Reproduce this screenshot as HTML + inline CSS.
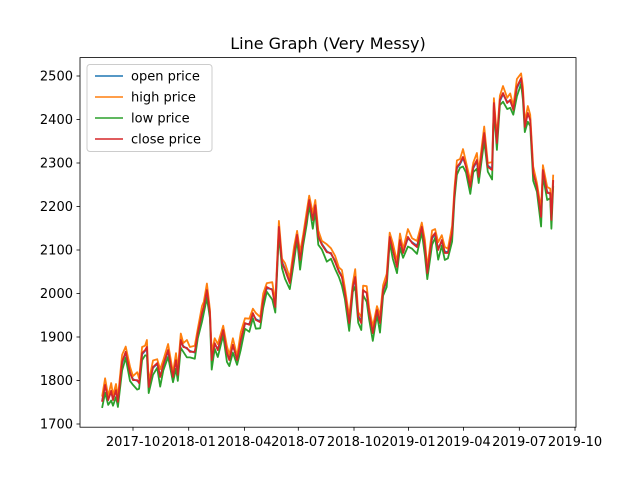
<!DOCTYPE html>
<html><head><meta charset="utf-8"><style>
body{margin:0;background:#fff}
svg{display:block;font-family:"DejaVu Sans","Liberation Sans",sans-serif}
</style></head><body>
<svg id="chart" width="640" height="480">
<rect width="640" height="480" fill="#fff"/>
<text x="328" y="49" text-anchor="middle" font-size="16">Line Graph (Very Messy)</text>
<g id="plot"></g>
</svg>
<script>
const days=[-51,-46,-41,-36,-33,-28,-25,-18,-12,-5,0,7,10,15,20,23,26,33,40,45,50,58,66,71,74,79,83,89,94,102,107,114,117,122,127,130,135,140,149,155,159,165,172,178,185,192,198,203,210,215,221,230,235,241,246,251,259,266,271,276,281,287,291,297,301,306,312,320,327,334,340,345,350,357,363,367,372,377,380,386,390,396,403,408,413,419,424,429,436,441,446,454,461,469,477,482,486,494,499,504,510,515,520,527,531,535,540,545,550,557,562,568,571,580,586,593,596,601,606,611,618,623,628,634,641,644,647,652,656,661,667,674,677,684,689,691,694];
const closeP=[1751,1790,1755,1776,1755,1778,1751,1843,1866,1817,1801,1801,1794,1863,1870,1877,1785,1831,1840,1808,1836,1870,1808,1847,1813,1893,1877,1875,1866,1866,1909,1955,1969,2008,1955,1847,1886,1870,1916,1863,1847,1882,1847,1893,1932,1928,1955,1939,1934,1985,2015,2008,1969,2153,2070,2054,2024,2093,2135,2077,2123,2176,2215,2169,2203,2130,2112,2095,2093,2072,2050,2038,2001,1932,2015,2038,1946,1932,2008,2001,1955,1909,1962,1932,2008,2031,2130,2100,2061,2123,2093,2130,2116,2107,2153,2107,2047,2130,2139,2100,2123,2093,2093,2139,2231,2291,2300,2314,2291,2245,2291,2307,2268,2369,2291,2284,2438,2346,2445,2461,2438,2445,2422,2475,2495,2461,2383,2415,2399,2277,2245,2176,2284,2231,2231,2169,2261];
const openP=[1753,1788,1757,1774,1757,1776,1753,1840,1864,1819,1803,1799,1796,1860,1868,1875,1788,1829,1838,1810,1834,1867,1811,1845,1815,1890,1879,1873,1868,1864,1906,1952,1967,2005,1958,1850,1884,1872,1913,1866,1849,1880,1850,1890,1930,1930,1952,1941,1936,1982,2012,2010,1972,2150,2073,2056,2027,2090,2132,2080,2120,2173,2212,2172,2200,2133,2114,2097,2091,2075,2052,2040,2004,1935,2012,2035,1949,1935,2005,2003,1958,1912,1959,1935,2005,2029,2127,2102,2064,2120,2095,2127,2118,2110,2150,2110,2050,2127,2136,2103,2120,2096,2095,2136,2228,2288,2297,2311,2294,2248,2288,2304,2271,2366,2294,2287,2435,2349,2442,2458,2441,2442,2425,2472,2492,2464,2386,2412,2402,2280,2248,2179,2281,2234,2228,2172,2258];
const highP=[1763,1805,1764,1794,1766,1792,1761,1859,1878,1832,1810,1819,1805,1877,1880,1893,1797,1846,1849,1826,1847,1884,1818,1863,1825,1908,1886,1893,1877,1880,1919,1971,1981,2023,1964,1865,1897,1884,1926,1879,1859,1897,1856,1911,1943,1942,1965,1955,1946,2000,2024,2026,1980,2167,2080,2070,2036,2108,2144,2095,2134,2190,2225,2185,2215,2145,2121,2113,2104,2086,2060,2054,2013,1947,2024,2056,1957,1946,2018,2017,1967,1924,1971,1950,2019,2045,2140,2116,2073,2138,2102,2148,2127,2121,2163,2123,2059,2145,2148,2118,2134,2107,2103,2155,2243,2306,2309,2332,2302,2259,2301,2323,2280,2384,2300,2302,2449,2360,2455,2477,2450,2460,2431,2493,2506,2475,2393,2431,2411,2292,2254,2194,2295,2245,2241,2185,2273];
const lowP=[1737,1772,1744,1754,1742,1762,1739,1823,1852,1799,1790,1779,1781,1847,1858,1857,1771,1813,1829,1786,1823,1854,1796,1827,1799,1875,1866,1853,1853,1850,1897,1935,1955,1990,1944,1825,1873,1854,1904,1843,1833,1864,1836,1871,1919,1912,1943,1919,1920,1967,2004,1986,1956,2137,2058,2034,2010,2075,2124,2055,2110,2160,2203,2149,2189,2112,2101,2073,2080,2056,2038,2018,1987,1914,2004,2016,1933,1916,1996,1981,1941,1891,1951,1910,1995,2015,2118,2080,2047,2105,2082,2108,2103,2091,2141,2087,2033,2112,2128,2078,2110,2077,2081,2119,2217,2273,2289,2292,2278,2229,2279,2287,2254,2351,2280,2262,2425,2330,2433,2441,2424,2427,2411,2453,2482,2445,2371,2395,2385,2259,2234,2154,2271,2215,2219,2149,2247];
const yTicks=[1700,1800,1900,2000,2100,2200,2300,2400,2500];
const xTickDays=[0,92,184,273,365,455,546,638,730];
const xTickLabels=["2017-10","2018-01","2018-04","2018-07","2018-10","2019-01","2019-04","2019-07","2019-10"];
const seriesNames=["open price","high price","low price","close price"];
const seriesColors=["#1f77b4","#ff7f0e","#2ca02c","#d62728"];

const NS="http://www.w3.org/2000/svg";
const X=d=>133+d*0.6055;
const Y=v=>424-(v-1700)*0.435;
const g=document.getElementById('plot');
function mk(t,a){const e=document.createElementNS(NS,t);for(const k in a)e.setAttribute(k,a[k]);g.appendChild(e);return e;}

const data=[openP,highP,lowP,closeP];
data.forEach((arr,si)=>{
  const pts=arr.map((v,i)=>X(days[i]).toFixed(1)+','+Y(v).toFixed(1)).join(' ');
  const pl=mk('polyline',{points:pts,fill:'none',stroke:seriesColors[si],'stroke-width':1.8,'stroke-linejoin':'round'});
  
  
});

const frame=mk('rect',{x:80,y:57.6,width:496,height:369.6,fill:'none',stroke:'#000','stroke-width':0.8});



yTicks.forEach(v=>{
  const y=Y(v);
  const t=mk('line',{x1:76.5,x2:80,y1:y,y2:y,stroke:'#000','stroke-width':0.8});
  
  
  const l=mk('text',{x:73,y:y+4.5,'text-anchor':'end','font-size':13});
  l.textContent=v;
  
  
});
xTickDays.forEach((d,i)=>{
  const x=X(d);
  const t=mk('line',{x1:x,x2:x,y1:427.2,y2:430.7,stroke:'#000','stroke-width':0.8});
  
  
  const l=mk('text',{x:x,y:446,'text-anchor':'middle','font-size':13});
  l.textContent=xTickLabels[i];
  
  
});

const lg=mk('rect',{x:87,y:64.5,width:125,height:87,rx:3,fill:'#fff','fill-opacity':0.8,stroke:'#ccc','stroke-width':1});


seriesNames.forEach((n,i)=>{
  const y=76+i*21;
  const ln=mk('line',{x1:95,x2:123,y1:y,y2:y,stroke:seriesColors[i],'stroke-width':1.5});
  
  
  const tx=mk('text',{x:131,y:y+4.5,'font-size':13});
  tx.textContent=n;
  
  
});
</script>
</body></html>
